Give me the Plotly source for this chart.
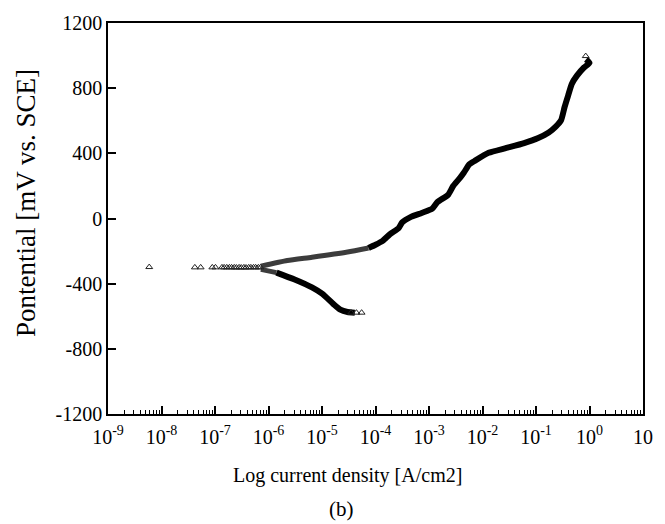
import plotly.graph_objects as go

# ---------------- data (current density in A/cm2, potential in mV vs. SCE) -------------
# sparse / individually visible triangles around the corrosion potential
corr_i = [5.9e-9, 4.2e-8, 5.4e-8, 8.9e-8, 1.02e-7, 1.35e-7, 1.48e-7, 1.66e-7, 1.86e-7,
          2.04e-7, 2.29e-7, 2.51e-7, 2.82e-7, 3.09e-7, 3.47e-7, 3.80e-7, 4.27e-7,
          4.68e-7, 5.25e-7, 5.75e-7, 6.46e-7, 7.08e-7]
corr_e = [-298, -300, -300, -300, -300, -300, -300, -300, -300,
          -300, -300, -301, -300, -301, -300, -301, -300,
          -300, -300, -300, -300, -300]

# anodic branch
anodic_i = [7.2e-7, 2.25e-6, 6.5e-6, 3.0e-5, 7.4e-5, 1.0e-4, 1.36e-4, 1.85e-4, 2.7e-4,
            3.15e-4, 4.6e-4, 7.3e-4, 1.15e-3, 1.44e-3, 2.27e-3, 2.85e-3, 3.86e-3,
            4.5e-3, 5.65e-3, 7.1e-3, 1.3e-2, 2.8e-2, 6.0e-2, 0.11, 0.173, 0.234,
            0.295, 0.343, 0.40, 0.466, 0.583, 0.79, 1.0, 0.86]
anodic_e = [-292, -258, -238, -206, -181, -161, -137, -97, -60,
            -24, 10, 34, 60, 101, 145, 201, 252,
            282, 332, 353, 403, 433, 463, 494, 528, 564,
            604, 685, 756, 826, 877, 927, 955, 977]
tip_i = [0.85]
tip_e = [997]

# cathodic branch
cath_i = [7.2e-7, 1.41e-6, 3.0e-6, 6.5e-6, 1.02e-5, 1.62e-5, 2.2e-5, 3.0e-5, 4.1e-5]
cath_e = [-312, -332, -373, -423, -463, -524, -560, -574, -578]
tail_i = [3.5e-5, 4.4e-5, 5.5e-5]
tail_e = [-578, -578, -578]

x_exponents = [-9, -8, -7, -6, -5, -4, -3, -2, -1, 0, 1]
x_ticklabels = ["10<sup>-9</sup>", "10<sup>-8</sup>", "10<sup>-7</sup>", "10<sup>-6</sup>",
                "10<sup>-5</sup>", "10<sup>-4</sup>", "10<sup>-3</sup>", "10<sup>-2</sup>",
                "10<sup>-1</sup>", "10<sup>0</sup>", "10"]
y_ticks = [-1200, -800, -400, 0, 400, 800, 1200]
y_ticklabels = ["-1200", "-800", "-400", "0", "400", "800", "1200"]

FONT = "Liberation Serif, Times New Roman, serif"
split = 5  # first part of anodic branch looks grey (hatched by overlapping markers)

fig = go.Figure()
fig.add_trace(go.Scatter(x=anodic_i[:split], y=anodic_e[:split], mode="lines",
                         line=dict(color="#3c3c3c", width=5, shape="spline", smoothing=0.5),
                         hoverinfo="skip"))
fig.add_trace(go.Scatter(x=anodic_i[split - 1:], y=anodic_e[split - 1:], mode="lines",
                         line=dict(color="black", width=6, shape="spline", smoothing=0.5),
                         hoverinfo="skip"))
fig.add_trace(go.Scatter(x=cath_i[:2], y=cath_e[:2], mode="lines",
                         line=dict(color="#3c3c3c", width=5, shape="spline", smoothing=0.5),
                         hoverinfo="skip"))
fig.add_trace(go.Scatter(x=cath_i[1:], y=cath_e[1:], mode="lines",
                         line=dict(color="black", width=6, shape="spline", smoothing=0.5),
                         hoverinfo="skip"))
mk = dict(symbol="triangle-up-open", size=6, color="#222222", line=dict(width=1, color="#222222"))
for xs, ys in [(corr_i, corr_e), (tail_i, tail_e), (tip_i, tip_e)]:
    fig.add_trace(go.Scatter(x=xs, y=ys, mode="markers", marker=mk))

minor_vals = [m * 10.0 ** k for k in x_exponents[:-1] for m in range(2, 10)]

fig.update_layout(
    width=665, height=524,
    margin=dict(l=108, r=17, t=19, b=110),
    paper_bgcolor="white", plot_bgcolor="white",
    showlegend=False,
    font=dict(family=FONT, color="black"),
    xaxis=dict(
        type="log", range=[-9, 1],
        tickmode="array", tickvals=[10.0 ** k for k in x_exponents], ticktext=x_ticklabels,
        ticks="inside", ticklen=8, tickwidth=1.5, tickcolor="black",
        showline=True, linecolor="black", linewidth=1.6, mirror=True,
        showgrid=False, zeroline=False, ticklabelstandoff=4,
        tickfont=dict(family=FONT, size=20, color="black"),
        minor=dict(tickmode="array", tickvals=minor_vals, ticks="inside", ticklen=4,
                   tickwidth=1, tickcolor="black", showgrid=False),
    ),
    yaxis=dict(
        range=[-1200, 1200], tickmode="array", tickvals=y_ticks, ticktext=y_ticklabels,
        ticks="inside", ticklen=8, tickwidth=1.5, tickcolor="black",
        showline=True, linecolor="black", linewidth=1.6, mirror=True,
        showgrid=False, zeroline=False,
        tickfont=dict(family=FONT, size=20, color="black"),
    ),
    annotations=[
        dict(text="Log current density [A/cm2]", xref="paper", yref="paper",
             x=0.448, y=-0.157, xanchor="center", yanchor="middle", showarrow=False,
             font=dict(family=FONT, size=20, color="black")),
        dict(text="(b)", xref="paper", yref="paper",
             x=0.437, y=-0.243, xanchor="center", yanchor="middle", showarrow=False,
             font=dict(family=FONT, size=21, color="black")),
        dict(text="Pontential [mV vs. SCE]", xref="paper", yref="paper",
             x=-0.152, y=0.539, xanchor="center", yanchor="middle", showarrow=False,
             textangle=-90, font=dict(family=FONT, size=27, color="black")),
    ],
)

fig.write_html("out.html")
